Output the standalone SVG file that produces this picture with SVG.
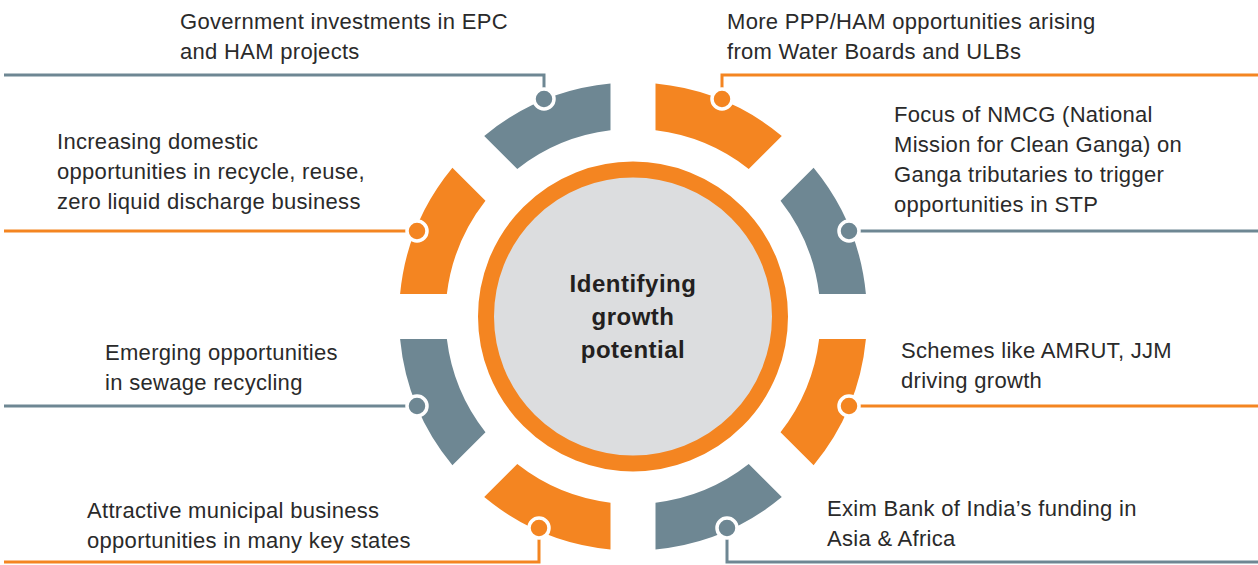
<svg xmlns="http://www.w3.org/2000/svg" width="1258" height="565" viewBox="0 0 1258 565">
<style>
.or{fill:#f48521}
.gr{fill:#6e8793}
.lo{fill:none;stroke:#f48521;stroke-width:3}
.lg{fill:none;stroke:#6e8793;stroke-width:3}
.dot{stroke:#fff;stroke-width:3.5}
.lbl{font-family:"Liberation Sans",Arial,Helvetica,sans-serif;font-size:22px;fill:#2a2a2a;letter-spacing:0.3px}
.ctr{font-family:"Liberation Sans",Arial,Helvetica,sans-serif;font-size:24px;font-weight:bold;fill:#231f20;text-anchor:middle;letter-spacing:0.5px}
</style>
<rect width="1258" height="565" fill="#fff"/>
<g id="connectors">
<path class="lg" d="M544 99V75H4"/>
<path class="lo" d="M722 99V75H1258"/>
<path class="lo" d="M417 231H4"/>
<path class="lg" d="M849 231H1258"/>
<path class="lg" d="M417 406H4"/>
<path class="lo" d="M849 406H1258"/>
<path class="lo" d="M539 528V562H4"/>
<path class="lg" d="M727 528V562H1258"/>
</g>
<g id="center">
<circle cx="633" cy="316.5" r="147" fill="#dcdddf" stroke="#f48521" stroke-width="16"/>
<text class="ctr" x="633" y="292">Identifying</text>
<text class="ctr" x="633" y="325">growth</text>
<text class="ctr" x="633" y="358">potential</text>
</g>
<g id="n-epc">
<path class="gr" d="M484.2 135.91A234 234 0 0 1 610.5 83.58L610.5 130.36A187.5 187.5 0 0 0 517.27 168.98Z"/>
<circle class="gr dot" cx="544" cy="99" r="10"/>
<text class="lbl" x="180" y="29">Government investments in EPC</text>
<text class="lbl" x="180" y="59">and HAM projects</text>
</g>
<g id="n-ppp">
<path class="or" d="M655.5 83.58A234 234 0 0 1 781.8 135.91L748.73 168.98A187.5 187.5 0 0 0 655.5 130.36Z"/>
<circle class="or dot" cx="722" cy="99" r="10"/>
<text class="lbl" x="727" y="29">More PPP/HAM opportunities arising</text>
<text class="lbl" x="727" y="59">from Water Boards and ULBs</text>
</g>
<g id="n-nmcg">
<path class="gr" d="M813.59 167.7A234 234 0 0 1 865.92 294L819.14 294A187.5 187.5 0 0 0 780.52 200.77Z"/>
<circle class="gr dot" cx="849" cy="231" r="10"/>
<text class="lbl" x="894" y="122">Focus of NMCG (National</text>
<text class="lbl" x="894" y="152">Mission for Clean Ganga) on</text>
<text class="lbl" x="894" y="182">Ganga tributaries to trigger</text>
<text class="lbl" x="894" y="212">opportunities in STP</text>
</g>
<g id="n-amrut">
<path class="or" d="M865.92 339A234 234 0 0 1 813.59 465.3L780.52 432.23A187.5 187.5 0 0 0 819.14 339Z"/>
<circle class="or dot" cx="849" cy="406" r="10"/>
<text class="lbl" x="901" y="358">Schemes like AMRUT, JJM</text>
<text class="lbl" x="901" y="388">driving growth</text>
</g>
<g id="n-exim">
<path class="gr" d="M781.8 497.09A234 234 0 0 1 655.5 549.42L655.5 502.64A187.5 187.5 0 0 0 748.73 464.02Z"/>
<circle class="gr dot" cx="727" cy="528" r="10"/>
<text class="lbl" x="827" y="516">Exim Bank of India’s funding in</text>
<text class="lbl" x="827" y="546">Asia &amp; Africa</text>
</g>
<g id="n-municipal">
<path class="or" d="M610.5 549.42A234 234 0 0 1 484.2 497.09L517.27 464.02A187.5 187.5 0 0 0 610.5 502.64Z"/>
<circle class="or dot" cx="539" cy="528" r="10"/>
<text class="lbl" x="87" y="518">Attractive municipal business</text>
<text class="lbl" x="87" y="548">opportunities in many key states</text>
</g>
<g id="n-sewage">
<path class="gr" d="M452.41 465.3A234 234 0 0 1 400.08 339L446.86 339A187.5 187.5 0 0 0 485.48 432.23Z"/>
<circle class="gr dot" cx="417" cy="406" r="10"/>
<text class="lbl" x="105" y="360">Emerging opportunities</text>
<text class="lbl" x="105" y="390">in sewage recycling</text>
</g>
<g id="n-recycle">
<path class="or" d="M400.08 294A234 234 0 0 1 452.41 167.7L485.48 200.77A187.5 187.5 0 0 0 446.86 294Z"/>
<circle class="or dot" cx="417" cy="231" r="10"/>
<text class="lbl" x="57" y="149">Increasing domestic</text>
<text class="lbl" x="57" y="179">opportunities in recycle, reuse,</text>
<text class="lbl" x="57" y="209">zero liquid discharge business</text>
</g>
</svg>
